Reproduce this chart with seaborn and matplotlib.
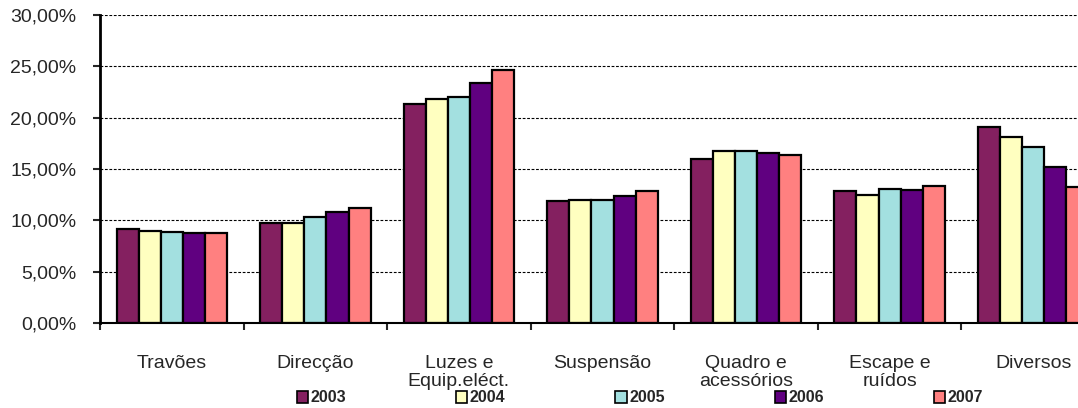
import pandas as pd
import seaborn as sns
import matplotlib.pyplot as plt
from matplotlib.patches import Patch
from matplotlib.ticker import FuncFormatter, FixedLocator

# categories and yearly shares (%)
categorias = ["Travões", "Direcção", "Luzes e\nEquip.eléct.", "Suspensão",
              "Quadro e\nacessórios", "Escape e\nruídos", "Diversos"]
anos = ["2003", "2004", "2005", "2006", "2007"]
v2003 = [9.2, 9.7, 21.3, 11.9, 16.0, 12.9, 19.1]
v2004 = [9.0, 9.7, 21.8, 12.0, 16.8, 12.5, 18.1]
v2005 = [8.9, 10.3, 22.0, 12.0, 16.8, 13.1, 17.1]
v2006 = [8.8, 10.8, 23.4, 12.4, 16.6, 13.0, 15.2]
v2007 = [8.8, 11.2, 24.6, 12.9, 16.4, 13.3, 13.2]
cores = ["#842060", "#FFFFC0", "#A3E0E0", "#600080", "#FF8080"]

valores = [v2003, v2004, v2005, v2006, v2007]
rows = []
for ano, vals in zip(anos, valores):
    for cat, v in zip(categorias, vals):
        rows.append({"categoria": cat, "ano": ano, "valor": v})
df = pd.DataFrame(rows)

sns.set_style("white")
plt.rcParams["font.family"] = ["Liberation Sans", "DejaVu Sans"]

fig = plt.figure(figsize=(10.78, 4.08), dpi=100)
ax = fig.add_axes([100 / 1078, 1 - 323 / 408, 1005 / 1078, 308 / 408])

sns.barplot(data=df, x="categoria", y="valor", hue="ano", palette=cores,
            width=0.77, saturation=1, edgecolor="black", linewidth=1.6,
            legend=False, ax=ax)

ax.set_ylim(0, 30)
ax.set_xlim(-0.5, 6.5)
ax.set_yticks([0, 5, 10, 15, 20, 25, 30])
ax.yaxis.set_major_formatter(FuncFormatter(lambda v, p: f"{v:.2f}".replace(".", ",") + "%"))
ax.yaxis.grid(True, color="black", linestyle=(0, (2.5, 1.5)), linewidth=0.8)
ax.set_axisbelow(True)

ax.xaxis.set_minor_locator(FixedLocator([i - 0.5 for i in range(8)]))
ax.tick_params(axis="x", which="major", length=0, pad=23, labelsize=14)
ax.tick_params(axis="x", which="minor", length=5, width=1.5, direction="out", bottom=True)
ax.tick_params(axis="y", length=5, width=1.5, direction="out", left=True, labelsize=14, pad=12)
for lab in ax.get_xticklabels():
    lab.set_linespacing(1.1)

for side in ["top", "right"]:
    ax.spines[side].set_visible(False)
ax.spines["left"].set_linewidth(2)
ax.spines["left"].set_color("black")
ax.spines["bottom"].set_linewidth(1.5)
ax.spines["bottom"].set_color("black")
ax.set_xlabel("")
ax.set_ylabel("")

handles = [Patch(facecolor=c, edgecolor="black", linewidth=1.2) for c in cores]
fig.legend(handles, anos, loc="center", bbox_to_anchor=(640 / 1078, 1 - 398 / 408),
           ncol=5, frameon=False, handlelength=0.7, handleheight=0.7,
           handletextpad=0.15, columnspacing=6.9, borderaxespad=0,
           prop={"size": 11.5, "weight": "bold"})

fig.savefig("out.png", dpi=100)
